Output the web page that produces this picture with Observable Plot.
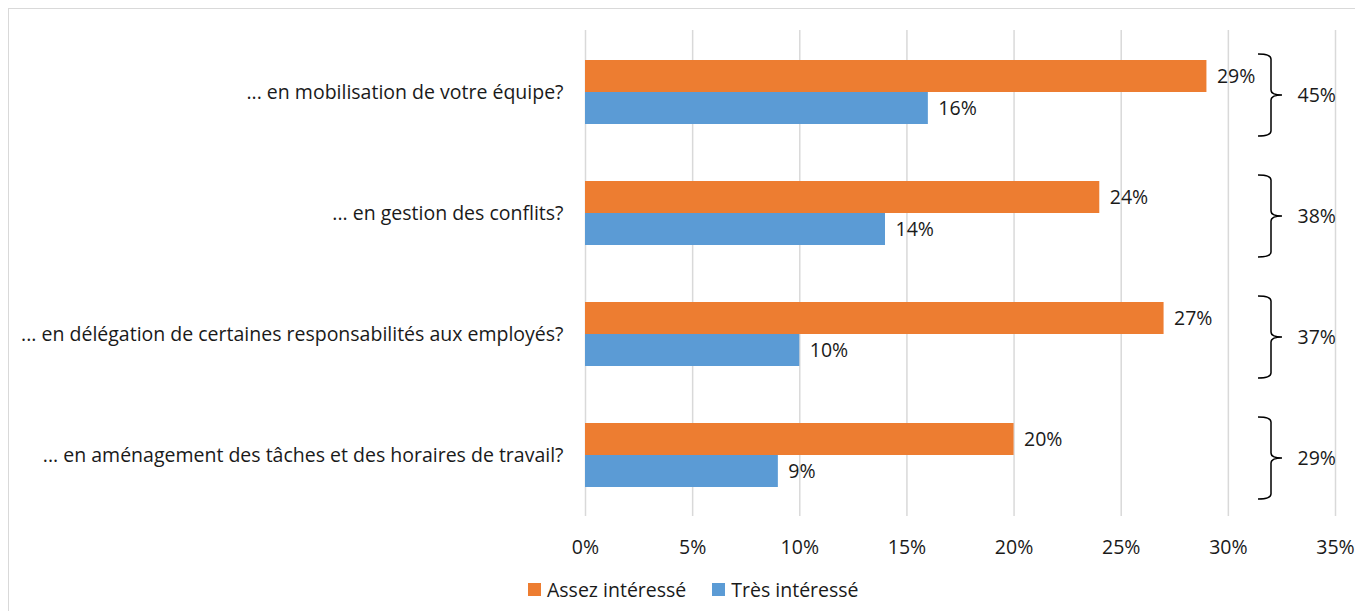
<!DOCTYPE html>
<html><head><meta charset="utf-8">
<script src="https://cdn.jsdelivr.net/npm/d3@7"></script>
<script src="https://cdn.jsdelivr.net/npm/@observablehq/plot@0.6"></script>
<style>
body{margin:0;background:#fff;overflow:hidden;font-family:"Open Sans",sans-serif;color:#1a1a1a;}
#frame{position:absolute;left:8px;top:8px;width:1400px;height:700px;border:1px solid #d9d9d9;}
#chart{position:absolute;left:0;top:0;}
#legend{position:absolute;top:576px;left:528px;display:flex;align-items:center;font-size:19.5px;white-space:nowrap;}
#legend .sw{width:13px;height:13px;display:inline-block;margin-right:6px;}
#legend .item{display:flex;align-items:center;margin-right:26px;}
</style></head>
<body>
<div id="frame"></div>
<div id="chart"></div>
<div id="legend"></div>
<script>
const categories = [
  "... en mobilisation de votre équipe?",
  "... en gestion des conflits?",
  "... en délégation de certaines responsabilités aux employés?",
  "... en aménagement des tâches et des horaires de travail?"
];
const series = ["Assez intéressé", "Très intéressé"];
const colors = ["#ED7D31", "#5B9BD5"];
const assez = [29, 24, 27, 20];
const tres = [16, 14, 10, 9];
const totals = [45, 38, 37, 29];
const xTicks = [0, 5, 10, 15, 20, 25, 30, 35];

const assezRows = categories.map((c, i) => ({category: c, value: assez[i]}));
const tresRows = categories.map((c, i) => ({category: c, value: tres[i]}));
const totalRows = categories.map((c, i) => ({category: c, value: totals[i]}));

function braces(index, scales, values, dimensions) {
  const y = scales.y;
  const bw = typeof y.bandwidth === "function" ? y.bandwidth() : 64;
  const right = dimensions.width - dimensions.marginRight;
  const xl = right - 77, xv = right - 64, xt = right - 53, r = 5;
  const g = d3.create("svg:g").attr("fill", "none").attr("stroke", "#000").attr("stroke-width", 1.5);
  for (const c of categories) {
    const ym = y(c) + bw / 2 + 3;
    const yt = ym - 41, yb = ym + 41;
    g.append("path").attr("d",
      `M${xl},${yt} Q${xv},${yt} ${xv},${yt + r} L${xv},${ym - r} Q${xv},${ym} ${xt},${ym} ` +
      `M${xt},${ym} Q${xv},${ym} ${xv},${ym + r} L${xv},${yb - r} Q${xv},${yb} ${xl},${yb}`);
  }
  return g.node();
}

const chart = Plot.plot({
  width: 1355,
  height: 560,
  marginLeft: 585,
  marginRight: 20,
  marginTop: 30,
  marginBottom: 44,
  style: {fontFamily: "'Open Sans', sans-serif", fontSize: "19.5px", color: "#1a1a1a", background: "transparent"},
  x: {domain: [0, 35], ticks: xTicks, tickFormat: d => d + "%", tickSize: 0, tickPadding: 24, label: null},
  y: {domain: categories, paddingInner: 0.473, paddingOuter: 0.2365, tickSize: 0, tickPadding: 22, label: null},
  marks: [
    Plot.gridX(xTicks, {stroke: "#d9d9d9", strokeOpacity: 1, strokeWidth: 1.5}),
    Plot.barX(assezRows, {x: "value", y: "category", fill: colors[0], insetBottom: 32}),
    Plot.barX(tresRows, {x: "value", y: "category", fill: colors[1], insetTop: 32}),
    Plot.text(assezRows, {x: "value", y: "category", text: d => d.value + "%", dx: 10, dy: -16, textAnchor: "start", fill: "#1a1a1a"}),
    Plot.text(tresRows, {x: "value", y: "category", text: d => d.value + "%", dx: 10, dy: 16, textAnchor: "start", fill: "#1a1a1a"}),
    braces,
    Plot.text(totalRows, {frameAnchor: "right", y: "category", text: d => d.value + "%", dx: -38, dy: 3, textAnchor: "start", fill: "#1a1a1a"})
  ]
});
document.getElementById("chart").appendChild(chart);

const legend = document.getElementById("legend");
series.forEach((s, i) => {
  const item = document.createElement("span");
  item.className = "item";
  item.innerHTML = `<span class="sw" style="background:${colors[i]}"></span><span>${s}</span>`;
  legend.appendChild(item);
});
</script>
</body></html>
